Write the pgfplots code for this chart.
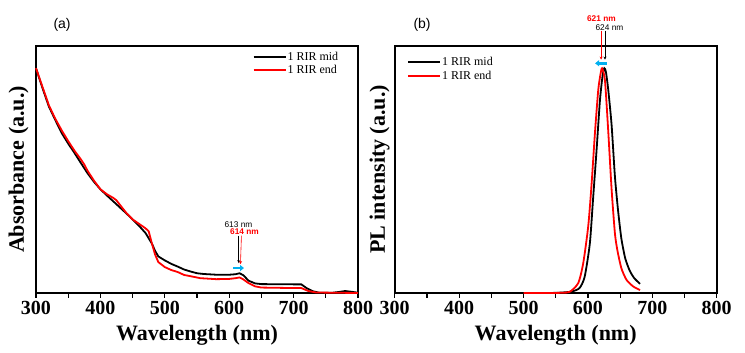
\documentclass[border=0pt]{standalone}
\usepackage{fontspec}
\setmainfont{Liberation Serif}
\setsansfont{Liberation Sans}
\usepackage{pgfplots}
\pgfplotsset{compat=1.18}
\usetikzlibrary{arrows.meta}
\definecolor{arrcyan}{RGB}{0,176,240}
\definecolor{myred}{RGB}{255,0,0}

\pgfplotsset{
  panel/.style={
    width=322pt, height=247pt, scale only axis=true,
    xmin=300, xmax=800, ymin=0, ymax=1,
    clip=false,
    xtick={300,400,500,600,700,800},
    minor xtick={350,450,550,650,750},
    xtick pos=bottom,
    ytick=\empty,
    tick align=outside,
    major tick length=5pt, minor tick length=5pt,
    every tick/.style={black, line width=1.2pt},
    every minor tick/.style={black, line width=1.2pt},
    axis line style={line width=1.6pt},
    /pgf/number format/assume math mode=true,
    /pgf/number format/1000 sep={},
    xticklabel style={font=\fontsize{20}{24}\selectfont\bfseries},
    xlabel={Wavelength (nm)},
    every axis x label/.style={at={(axis description cs:0.5,-0.17)}, anchor=center,
      font=\fontsize{22}{26}\selectfont\bfseries},
    every axis y label/.style={at={(axis description cs:-0.054,0.5)}, anchor=center, rotate=90,
      font=\fontsize{22}{26}\selectfont\bfseries},
    legend style={draw=none, fill=none, font=\fontsize{12}{14}\selectfont,
      inner sep=0pt, row sep=1pt, nodes={inner sep=1pt, anchor=west}},
    legend cell align=left,
    legend image code/.code={\draw[#1, line width=2pt] (0pt,0pt) -- (32pt,0pt);},
  }
}

\begin{document}
\begin{tikzpicture}
\path[use as bounding box] (-36pt,-60pt) rectangle (709pt,293pt);

% ---------- (a) ----------
\begin{axis}[panel, ylabel={Absorbance (a.u.)},
  legend style={at={(axis description cs:0.672,0.98)}, anchor=north west}]
\addplot[black, line width=1.8pt] coordinates {
(300,0.91) (310,0.83) (320,0.755) (330,0.70) (340,0.647) (350,0.605) (360,0.566)
(370,0.525) (380,0.485) (390,0.45) (400,0.42) (410,0.395) (420,0.371) (430,0.347)
(440,0.323) (450,0.298) (460,0.272) (470,0.243) (480,0.20) (485,0.17) (490,0.148)
(500,0.132) (510,0.118) (520,0.107) (530,0.095) (540,0.087) (550,0.08) (560,0.077)
(580,0.074) (600,0.074) (610,0.076) (616,0.08) (622,0.072) (630,0.05) (640,0.039)
(650,0.036) (700,0.035) (712,0.035) (720,0.02) (730,0.007) (740,0.001) (760,0.001)
(770,0.004) (780,0.008) (790,0.005) (800,0.001)};
\addlegendentry{1 RIR mid}
\addplot[myred, line width=1.8pt] coordinates {
(300,0.91) (310,0.835) (320,0.76) (330,0.705) (340,0.658) (350,0.615) (360,0.575)
(370,0.54) (375,0.52) (380,0.495) (390,0.455) (400,0.42) (410,0.40) (420,0.385)
(425,0.375) (430,0.358) (440,0.325) (450,0.298) (460,0.28) (470,0.262) (475,0.25)
(480,0.20) (485,0.155) (490,0.125) (500,0.105) (510,0.093) (520,0.085) (530,0.073)
(540,0.068) (555,0.06) (580,0.056) (600,0.057) (610,0.06) (616,0.063) (622,0.055)
(630,0.04) (640,0.027) (650,0.022) (700,0.02) (712,0.02) (723,0.008) (735,0.002)
(800,0)};
\addlegendentry{1 RIR end}
\node[font=\fontsize{14}{16}\selectfont\sffamily] at (axis description cs:0.081,1.085) {(a)};
\node[font=\fontsize{8.3}{9}\selectfont\sffamily] at (axis cs:614.4,0.275) {613 nm};
\node[font=\fontsize{8.3}{9}\selectfont\sffamily\bfseries, text=myred] at (axis cs:623.7,0.247) {614 nm};
\draw[black, line width=0.6pt, -{Stealth[length=3pt,width=3pt]}] (axis cs:614.9,0.232) -- (axis cs:614.9,0.121);
\draw[myred, line width=0.6pt, -{Stealth[length=3pt,width=3pt]}] (axis cs:619,0.232) -- (axis cs:617.5,0.117);
\draw[arrcyan, line width=2.5pt, -{Triangle[length=4pt,width=6pt]}] (axis cs:606,0.101) -- (axis cs:623,0.101);
\end{axis}

% ---------- (b) ----------
\begin{axis}[panel, xshift=358.7pt, ylabel={PL intensity (a.u.)},
  every axis y label/.append style={at={(axis description cs:-0.047,0.5)}},
  legend style={at={(axis description cs:0.038,0.96)}, anchor=north west, row sep=2pt}]
\addplot[black, line width=1.8pt, smooth, tension=0.4] coordinates {
(500,0) (540,0) (560,0.002) (575,0.006) (587,0.02) (595,0.066) (603,0.2) (608,0.38)
(613.5,0.58) (618.7,0.78) (622.8,0.88) (625.5,0.91) (628,0.895) (631.7,0.82)
(636.8,0.68) (642,0.47) (647,0.33) (652,0.22) (658,0.14) (665,0.09) (672,0.06) (681,0.037)};
\addlegendentry{1 RIR mid}
\addplot[myred, line width=1.8pt, smooth, tension=0.4] coordinates {
(500,0) (540,0) (560,0.001) (572,0.005) (585,0.04) (592.7,0.12) (600.5,0.27)
(605.7,0.44) (611,0.65) (616,0.82) (619.5,0.885) (622,0.91) (626.5,0.86)
(631.7,0.65) (636.8,0.42) (642,0.24) (646,0.17) (652,0.1) (660,0.053) (670.6,0.026) (681,0.012)};
\addlegendentry{1 RIR end}
\node[font=\fontsize{14}{16}\selectfont\sffamily] at (axis description cs:0.085,1.085) {(b)};
\node[font=\fontsize{8.3}{9}\selectfont\sffamily\bfseries, text=myred] at (axis cs:621,1.112) {621 nm};
\node[font=\fontsize{8.3}{9}\selectfont\sffamily] at (axis cs:633.5,1.076) {624 nm};
\draw[myred, line width=0.6pt, -{Stealth[length=3pt,width=3pt]}] (axis cs:620.5,1.062) -- (axis cs:620.5,0.945);
\draw[black, line width=0.6pt, -{Stealth[length=3pt,width=3pt]}] (axis cs:626.5,1.062) -- (axis cs:626.5,0.945);
\draw[arrcyan, line width=2.5pt, -{Triangle[length=4pt,width=6pt]}] (axis cs:629.3,0.93) -- (axis cs:611.2,0.93);
\end{axis}
\end{tikzpicture}
\end{document}
